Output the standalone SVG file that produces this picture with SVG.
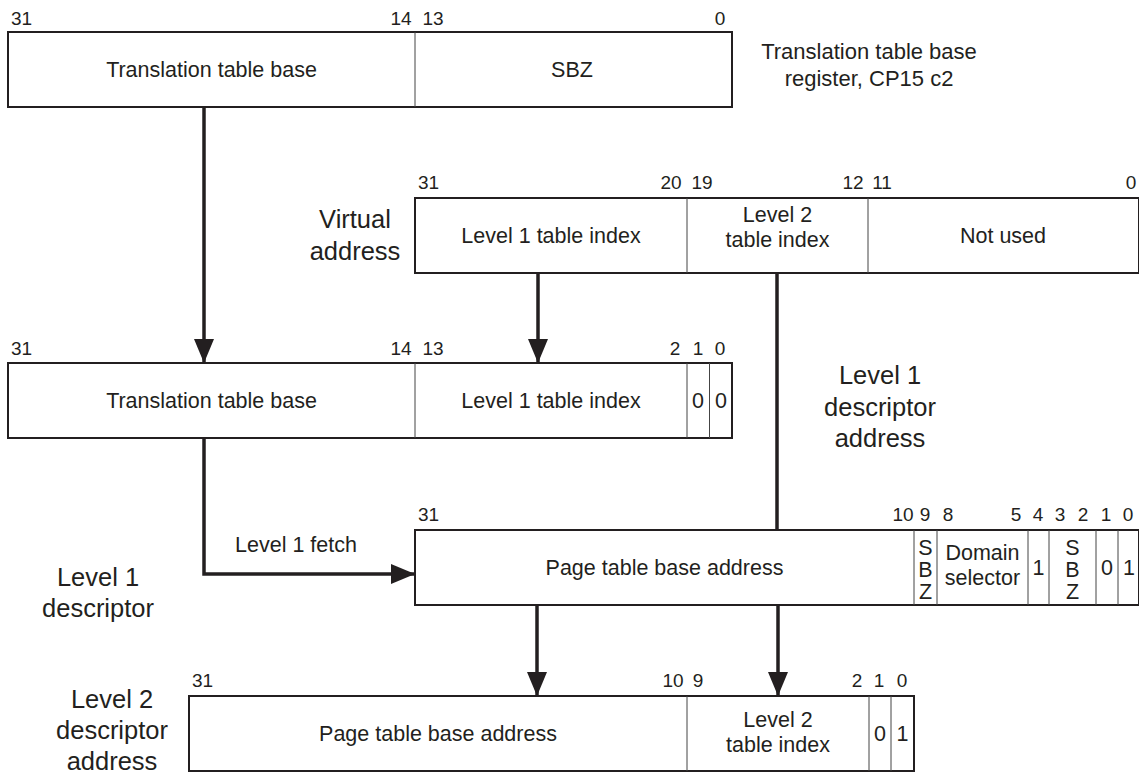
<svg xmlns="http://www.w3.org/2000/svg" width="1139" height="774" viewBox="0 0 1139 774">
  <style>
    text { font-family: "Liberation Sans", Arial, sans-serif; fill: #231f20; }
    .bit { font-size: 19px; text-anchor: middle; }
    .bitl { font-size: 19px; text-anchor: start; }
    .field { font-size: 21.5px; text-anchor: middle; }
    .lbl { font-size: 25.5px; text-anchor: middle; }
    .lbls { font-size: 22px; text-anchor: middle; }
    .box { fill: #ffffff; stroke: #231f20; stroke-width: 2; }
    .div { stroke: #444444; stroke-width: 1; fill: none; }
    .conn { stroke: #231f20; stroke-width: 3.5; fill: none; }
  </style>
  <defs>
    <marker id="arrow" viewBox="0 0 24 20" refX="24" refY="10" markerWidth="24" markerHeight="20" markerUnits="userSpaceOnUse" orient="auto">
      <path d="M0,0 L24,10 L0,20 Z" fill="#231f20"/>
    </marker>
  </defs>

  <rect width="1139" height="774" fill="#ffffff"/>

  <!-- Translation table base register -->
  <g id="ttbr">
    <rect class="box" x="8" y="32" width="724" height="75"/>
    <line class="div" x1="415" y1="32" x2="415" y2="107"/>
    <text class="bitl" x="11" y="25">31</text>
    <text class="bit" x="401" y="25">14</text>
    <text class="bit" x="433" y="25">13</text>
    <text class="bit" x="720" y="25">0</text>
    <text class="field" x="211.5" y="77">Translation table base</text>
    <text class="field" x="572" y="77">SBZ</text>
  </g>
  <g id="ttbr-label">
    <text class="lbls" x="869" y="59">Translation table base</text>
    <text class="lbls" x="869" y="86">register, CP15 c2</text>
  </g>

  <!-- Virtual address -->
  <g id="va">
    <rect class="box" x="415" y="198" width="724" height="75"/>
    <line class="div" x1="687" y1="198" x2="687" y2="273"/>
    <line class="div" x1="868" y1="198" x2="868" y2="273"/>
    <text class="bitl" x="418" y="189">31</text>
    <text class="bit" x="671" y="189">20</text>
    <text class="bit" x="702" y="189">19</text>
    <text class="bit" x="853" y="189">12</text>
    <text class="bit" x="882" y="189">11</text>
    <text class="bit" x="1131" y="189">0</text>
    <text class="field" x="551" y="243">Level 1 table index</text>
    <text class="field" x="777.5" y="222">Level 2</text>
    <text class="field" x="777.5" y="247">table index</text>
    <text class="field" x="1003" y="243">Not used</text>
  </g>
  <g id="va-label">
    <text class="lbl" x="355" y="228">Virtual</text>
    <text class="lbl" x="355" y="260">address</text>
  </g>

  <!-- Level 1 descriptor address -->
  <g id="l1-addr">
    <rect class="box" x="8" y="363" width="724" height="75"/>
    <line class="div" x1="415" y1="363" x2="415" y2="438"/>
    <line class="div" x1="687" y1="363" x2="687" y2="438"/>
    <line class="div" x1="709.5" y1="363" x2="709.5" y2="438"/>
    <text class="bitl" x="11" y="355">31</text>
    <text class="bit" x="401" y="355">14</text>
    <text class="bit" x="433" y="355">13</text>
    <text class="bit" x="675" y="355">2</text>
    <text class="bit" x="698" y="355">1</text>
    <text class="bit" x="720" y="355">0</text>
    <text class="field" x="211.5" y="408">Translation table base</text>
    <text class="field" x="551" y="408">Level 1 table index</text>
    <text class="field" x="698" y="408">0</text>
    <text class="field" x="721" y="408">0</text>
  </g>
  <g id="l1-addr-label">
    <text class="lbl" x="880" y="384">Level 1</text>
    <text class="lbl" x="880" y="416">descriptor</text>
    <text class="lbl" x="880" y="447">address</text>
  </g>

  <!-- Level 1 descriptor -->
  <g id="l1-desc">
    <rect class="box" x="415" y="530" width="724" height="75"/>
    <line class="div" x1="914" y1="530" x2="914" y2="605"/>
    <line class="div" x1="937" y1="530" x2="937" y2="605"/>
    <line class="div" x1="1028" y1="530" x2="1028" y2="605"/>
    <line class="div" x1="1049" y1="530" x2="1049" y2="605"/>
    <line class="div" x1="1096" y1="530" x2="1096" y2="605"/>
    <line class="div" x1="1118" y1="530" x2="1118" y2="605"/>
    <text class="bitl" x="418" y="521">31</text>
    <text class="bit" x="903" y="521">10</text>
    <text class="bit" x="925" y="521">9</text>
    <text class="bit" x="948" y="521">8</text>
    <text class="bit" x="1016" y="521">5</text>
    <text class="bit" x="1038" y="521">4</text>
    <text class="bit" x="1060" y="521">3</text>
    <text class="bit" x="1083" y="521">2</text>
    <text class="bit" x="1106" y="521">1</text>
    <text class="bit" x="1128" y="521">0</text>
    <text class="field" x="664.5" y="575">Page table base address</text>
    <text class="field" x="925.5" y="555">S</text>
    <text class="field" x="925.5" y="577">B</text>
    <text class="field" x="925.5" y="599">Z</text>
    <text class="field" x="982.5" y="560">Domain</text>
    <text class="field" x="982.5" y="585">selector</text>
    <text class="field" x="1038.5" y="575">1</text>
    <text class="field" x="1072.5" y="555">S</text>
    <text class="field" x="1072.5" y="577">B</text>
    <text class="field" x="1072.5" y="599">Z</text>
    <text class="field" x="1107" y="575">0</text>
    <text class="field" x="1129" y="575">1</text>
  </g>
  <g id="l1-desc-label">
    <text class="lbl" x="98" y="586">Level 1</text>
    <text class="lbl" x="98" y="617">descriptor</text>
  </g>

  <!-- Level 2 descriptor address -->
  <g id="l2-addr">
    <rect class="box" x="189" y="696" width="725" height="75"/>
    <line class="div" x1="687" y1="696" x2="687" y2="771"/>
    <line class="div" x1="869" y1="696" x2="869" y2="771"/>
    <line class="div" x1="891" y1="696" x2="891" y2="771"/>
    <text class="bitl" x="192" y="687">31</text>
    <text class="bit" x="673" y="687">10</text>
    <text class="bit" x="698" y="687">9</text>
    <text class="bit" x="857" y="687">2</text>
    <text class="bit" x="879" y="687">1</text>
    <text class="bit" x="902" y="687">0</text>
    <text class="field" x="438" y="741">Page table base address</text>
    <text class="field" x="778" y="727">Level 2</text>
    <text class="field" x="778" y="752">table index</text>
    <text class="field" x="880" y="741">0</text>
    <text class="field" x="902.5" y="741">1</text>
  </g>
  <g id="l2-addr-label">
    <text class="lbl" x="112" y="708">Level 2</text>
    <text class="lbl" x="112" y="739">descriptor</text>
    <text class="lbl" x="112" y="770">address</text>
  </g>

  <!-- Connectors -->
  <g id="connectors">
    <path class="conn" d="M204,108 V363" marker-end="url(#arrow)"/>
    <path class="conn" d="M538,274 V363" marker-end="url(#arrow)"/>
    <path class="conn" d="M777,274 V530"/>
    <path class="conn" d="M204,439 V574 H415" marker-end="url(#arrow)"/>
    <path class="conn" d="M537,606 V696" marker-end="url(#arrow)"/>
    <path class="conn" d="M778,606 V696" marker-end="url(#arrow)"/>
    <text class="field" x="296" y="552">Level 1 fetch</text>
  </g>
</svg>
